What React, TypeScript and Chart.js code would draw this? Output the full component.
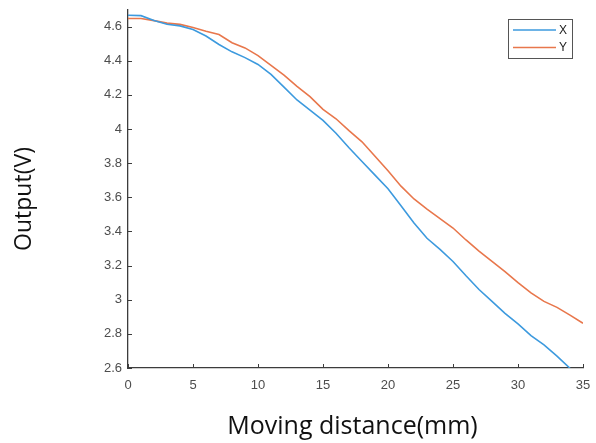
import React, { useEffect, useRef } from "react";
import { Chart, registerables } from "chart.js";

Chart.register(...registerables);

const DISTANCE_MM = [0, 1, 2, 3, 4, 5, 6, 7, 8, 9, 10, 11, 12, 13, 14, 15, 16, 17, 18, 19, 20, 21, 22, 23, 24, 25, 26, 27, 28, 29, 30, 31, 32, 33, 34, 35];

const X_OUTPUT = [4.666, 4.664, 4.635, 4.614, 4.604, 4.583, 4.545, 4.495, 4.452, 4.418, 4.378, 4.32, 4.245, 4.17, 4.11, 4.05, 3.975, 3.89, 3.81, 3.73, 3.65, 3.55, 3.45, 3.36, 3.295, 3.224, 3.14, 3.06, 2.99, 2.92, 2.858, 2.79, 2.735, 2.67, 2.598, 2.535];

const Y_OUTPUT = [4.647, 4.647, 4.635, 4.62, 4.613, 4.595, 4.572, 4.553, 4.505, 4.475, 4.43, 4.373, 4.315, 4.25, 4.19, 4.115, 4.06, 3.99, 3.925, 3.84, 3.755, 3.665, 3.59, 3.53, 3.475, 3.42, 3.35, 3.285, 3.225, 3.165, 3.1, 3.04, 2.99, 2.955, 2.91, 2.862];

const X_TICKS = [0, 5, 10, 15, 20, 25, 30, 35];
const Y_TICKS = [2.6, 2.8, 3.0, 3.2, 3.4, 3.6, 3.8, 4.0, 4.2, 4.4, 4.6];

const SERIES_LABELS = ["X", "Y"];
const SERIES_COLORS = ["#3d9ade", "#e8774c"];
const X_TITLE = "Moving distance(mm)";
const Y_TITLE = "Output(V)";

const AXIS_COLOR = "#3c3c3c";
const TITLE_FONT = "'Open Sans', 'Noto Sans', sans-serif";

const fmt = (v: number) => String(Math.round(v * 10) / 10);

const extrasPlugin = {
  id: "extras",
  afterDraw(chart: any) {
    const ctx = chart.ctx as CanvasRenderingContext2D;
    const area = chart.chartArea;
    const xs = chart.scales.x;
    const ys = chart.scales.y;
    ctx.save();
    // inward tick marks
    ctx.strokeStyle = AXIS_COLOR;
    ctx.lineWidth = 1;
    ctx.beginPath();
    X_TICKS.forEach((t) => {
      const px = Math.round(xs.getPixelForValue(t)) + 0.5;
      ctx.moveTo(px, area.bottom);
      ctx.lineTo(px, area.bottom - 4);
    });
    Y_TICKS.forEach((t) => {
      const py = Math.round(ys.getPixelForValue(t)) + 0.5;
      ctx.moveTo(area.left, py);
      ctx.lineTo(area.left + 4, py);
    });
    ctx.stroke();

    // axis titles
    ctx.fillStyle = "#111";
    ctx.font = "25px " + TITLE_FONT;
    ctx.textAlign = "center";
    ctx.textBaseline = "alphabetic";
    ctx.fillText(X_TITLE, 352.5, 434);

    ctx.save();
    ctx.translate(30.5, 199);
    ctx.rotate(-Math.PI / 2);
    ctx.font = "23px " + TITLE_FONT;
    ctx.fillText(Y_TITLE, 0, 0);
    ctx.restore();

    // legend
    const bx = 508.5, by = 19.5, bw = 64, bh = 39;
    ctx.fillStyle = "#fff";
    ctx.fillRect(bx, by, bw, bh);
    ctx.strokeStyle = "#555";
    ctx.lineWidth = 1;
    ctx.strokeRect(bx, by, bw, bh);
    const rows = [30, 47.5];
    SERIES_LABELS.forEach((lab, i) => {
      ctx.strokeStyle = SERIES_COLORS[i];
      ctx.lineWidth = 1.5;
      ctx.beginPath();
      ctx.moveTo(513, rows[i]);
      ctx.lineTo(556, rows[i]);
      ctx.stroke();
      ctx.fillStyle = "#222";
      ctx.font = "12px 'Liberation Sans', Arial, sans-serif";
      ctx.textAlign = "left";
      ctx.textBaseline = "middle";
      ctx.fillText(lab, 559, rows[i] + 0.5);
    });
    ctx.restore();
  },
};

export default function App() {
  const ref = useRef<HTMLCanvasElement | null>(null);
  useEffect(() => {
    if (!ref.current) return;
    const chart = new Chart(ref.current, {
      type: "line",
      data: {
        labels: DISTANCE_MM,
        datasets: [
          {
            label: SERIES_LABELS[0],
            data: DISTANCE_MM.map((d, i) => ({ x: d, y: X_OUTPUT[i] })),
            borderColor: SERIES_COLORS[0],
            borderWidth: 1.6,
            pointRadius: 0,
            tension: 0,
            fill: false,
          },
          {
            label: SERIES_LABELS[1],
            data: DISTANCE_MM.map((d, i) => ({ x: d, y: Y_OUTPUT[i] })),
            borderColor: SERIES_COLORS[1],
            borderWidth: 1.6,
            pointRadius: 0,
            tension: 0,
            fill: false,
          },
        ],
      },
      options: {
        animation: false,
        responsive: false,
        maintainAspectRatio: false,
        layout: { padding: { left: 0, right: 13, top: 9.5, bottom: 0 } },
        plugins: {
          legend: { display: false },
          tooltip: { enabled: false },
        },
        scales: {
          x: {
            type: "linear",
            min: 0,
            max: 35,
            afterBuildTicks: (s: any) => {
              s.ticks = X_TICKS.map((v) => ({ value: v }));
            },
            afterFit: (s: any) => {
              s.height = 75;
            },
            grid: { display: false, drawTicks: true, tickLength: 10 },
            border: { display: true, color: AXIS_COLOR, width: 1.3 },
            ticks: {
              font: { family: "'Liberation Sans', Arial, sans-serif", size: 13 },
              color: "#4d4d4d",
              padding: 0,
              maxRotation: 0,
              autoSkip: false,
              callback: (v: any) => fmt(Number(v)),
            },
          },
          y: {
            type: "linear",
            min: 2.6,
            max: 4.7,
            afterBuildTicks: (s: any) => {
              s.ticks = Y_TICKS.map((v) => ({ value: v }));
            },
            afterFit: (s: any) => {
              s.width = 128;
            },
            grid: { display: false, drawTicks: true, tickLength: 6 },
            border: { display: true, color: AXIS_COLOR, width: 1.3 },
            ticks: {
              font: { family: "'Liberation Sans', Arial, sans-serif", size: 13 },
              color: "#4d4d4d",
              padding: 0,
              autoSkip: false,
              callback: (v: any) => fmt(Number(v)),
            },
          },
        },
      },
      plugins: [extrasPlugin],
    });
    return () => chart.destroy();
  }, []);

  return (
    <div style={{ position: "fixed", left: 0, top: 0, width: 596, height: 443, background: "#fff" }}>
      <canvas ref={ref} width={596} height={443} style={{ width: 596, height: 443, display: "block" }} />
    </div>
  );
}
